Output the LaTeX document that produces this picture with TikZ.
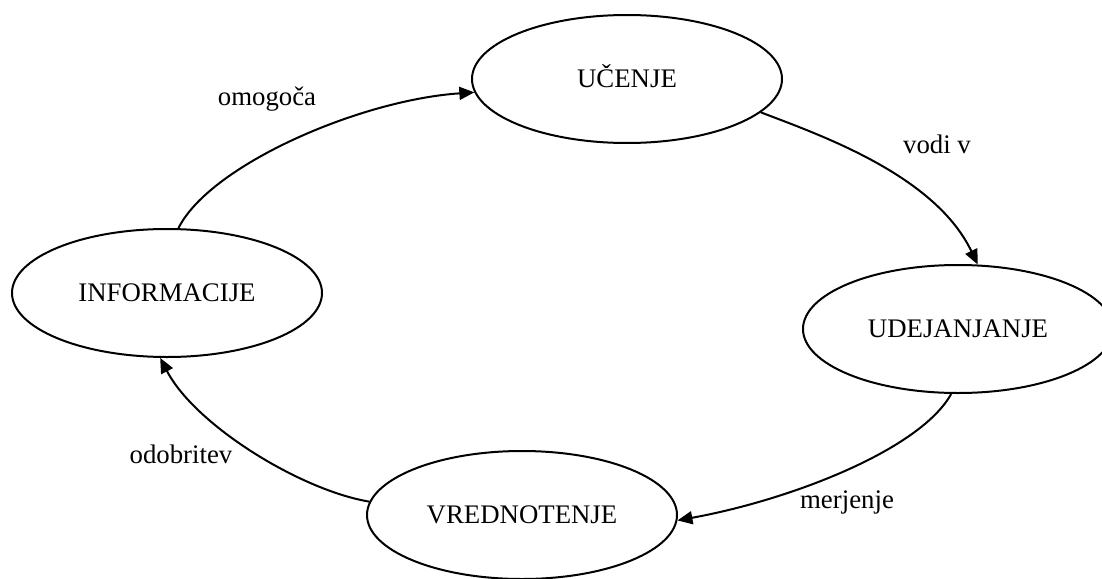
\documentclass[tikz,border=0pt]{standalone}
\usepackage{fontspec}
\setmainfont{Liberation Serif}
\usetikzlibrary{shapes.geometric,arrows.meta}
\begin{document}
\begin{tikzpicture}[x=1pt,y=-1pt,
  stage/.style={draw,ellipse,line width=2pt,minimum width=310pt,minimum height=128pt,inner sep=0pt,
    font=\fontsize{26.8}{30}\selectfont,text height=17.7pt,text depth=0pt},
  flow/.style={line width=2pt,-{Triangle[length=15pt,width=13pt]}},
  lbl/.style={font=\fontsize{26.8}{30}\selectfont,anchor=base,inner sep=0pt}]
\useasboundingbox (0,0) rectangle (1102,578);
\node[stage] (ucenje) at (627,79) {UČENJE};
\node[stage] (info) at (167,293) {INFORMACIJE};
\node[stage] (udej) at (958,329) {UDEJANJANJE};
\node[stage] (vred) at (522,515) {VREDNOTENJE};
\draw[flow] (info.80.5) .. controls (210,165) and (360,100) .. (ucenje.185.3);
\draw[flow] (ucenje.-14.3) .. controls (820,135) and (935,175) .. (udej.73.5);
\draw[flow] (udej.264.9) .. controls (920,450) and (790,500) .. (vred.-2.5);
\draw[flow] (vred.175.1) .. controls (300,490) and (195,425) .. (info.264.7);
\node[lbl] (l1) at (267,105) {omogoča};
\node[lbl] (l2) at (937,153) {vodi v};
\node[lbl] (l3) at (847,508) {merjenje};
\node[lbl] (l4) at (181,463) {odobritev};
\end{tikzpicture}
\end{document}
